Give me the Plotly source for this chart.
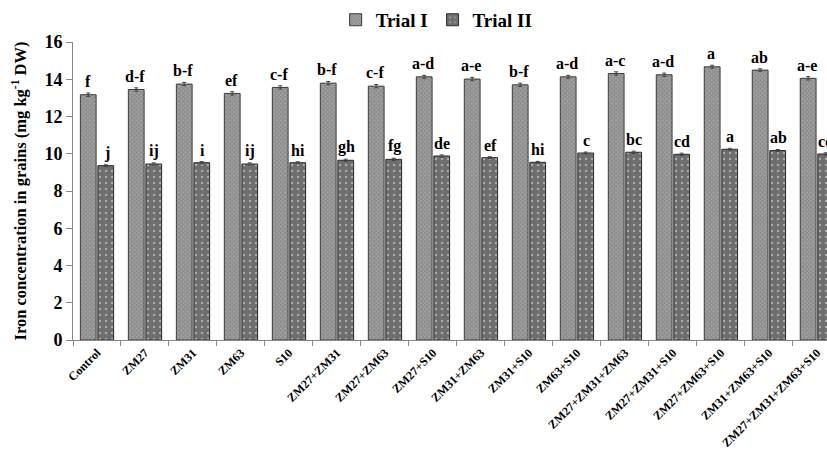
import plotly.graph_objects as go

treatments = ["Control", "ZM27", "ZM31", "ZM63", "S10", "ZM27+ZM31", "ZM27+ZM63",
              "ZM27+S10", "ZM31+ZM63", "ZM31+S10", "ZM63+S10", "ZM27+ZM31+ZM63",
              "ZM27+ZM31+S10", "ZM27+ZM63+S10", "ZM31+ZM63+S10", "ZM27+ZM31+ZM63+S10"]
trial1 = [13.17, 13.45, 13.74, 13.24, 13.56, 13.79, 13.63, 14.13,
          14.01, 13.70, 14.13, 14.31, 14.24, 14.67, 14.49, 14.05]
trial2 = [9.36, 9.45, 9.52, 9.45, 9.52, 9.65, 9.70, 9.88,
          9.79, 9.54, 10.04, 10.08, 9.97, 10.24, 10.17, 9.99]
trial1_err = [0.09, 0.09, 0.09, 0.09, 0.09, 0.09, 0.09, 0.08,
              0.09, 0.09, 0.08, 0.09, 0.09, 0.08, 0.07, 0.09]
trial2_err = [0.05, 0.06, 0.06, 0.06, 0.05, 0.06, 0.06, 0.06,
              0.05, 0.05, 0.05, 0.06, 0.06, 0.05, 0.06, 0.06]
trial1_letters = ["f", "d-f", "b-f", "ef", "c-f", "b-f", "c-f", "a-d",
                  "a-e", "b-f", "a-d", "a-c", "a-d", "a", "ab", "a-e"]
trial2_letters = ["j", "ij", "i", "ij", "hi", "gh", "fg", "de",
                  "ef", "hi", "c", "bc", "cd", "a", "ab", "cd"]

serif = "Liberation Serif, Times New Roman, serif"

fig = go.Figure()
fig.add_trace(go.Bar(
    name="Trial I", x=treatments, y=trial1,
    error_y=dict(type="data", array=trial1_err, color="#444", thickness=1, width=2),
    marker=dict(color="#a4a4a4", line=dict(color="#3a3a3a", width=1),
                pattern=dict(shape="x", size=3, solidity=0.5, fgcolor="#666666")),
))
fig.add_trace(go.Bar(
    name="Trial II", x=treatments, y=trial2,
    error_y=dict(type="data", array=trial2_err, color="#444", thickness=1, width=2),
    marker=dict(color="#6e6e6e", line=dict(color="#2a2a2a", width=1),
                pattern=dict(shape=".", size=6, solidity=0.12, fgcolor="#e8e8e8")),
))

letter_font = dict(family=serif, size=16, color="black", weight="bold")
annotations = []
for cat, v, e, t in zip(treatments, trial1, trial1_err, trial1_letters):
    annotations.append(dict(x=cat, y=v + e, text=t, xshift=-9.5, yshift=1,
                            yanchor="bottom", showarrow=False, font=letter_font))
for cat, v, e, t in zip(treatments, trial2, trial2_err, trial2_letters):
    annotations.append(dict(x=cat, y=v + e, text=t, xshift=9.5, yshift=1,
                            yanchor="bottom", showarrow=False, font=letter_font))

fig.update_layout(
    width=827, height=452,
    margin=dict(l=73, r=0, t=42, b=112),
    paper_bgcolor="white", plot_bgcolor="white",
    barmode="group", bargap=0.27, bargroupgap=0.1,
    font=dict(family=serif, color="black"),
    legend=dict(orientation="h", xref="container", yref="container",
                x=0.528, xanchor="center", y=0.956, yanchor="middle",
                font=dict(family=serif, size=19, weight="bold"),
                itemwidth=30, tracegroupgap=0),
    annotations=annotations,
    xaxis=dict(range=[-0.5, 15.21], tickangle=-45, showline=True, linecolor="#888",
               ticks="outside", tickson="boundaries", ticklen=5, tickcolor="#888",
               automargin=False,
               tickfont=dict(family=serif, size=12, weight="bold")),
    yaxis=dict(range=[0, 16], dtick=2, showgrid=False, zeroline=False, automargin=False,
               showline=True, linecolor="#888", ticks="outside", ticklen=6, tickcolor="#888",
               tickfont=dict(family=serif, size=18, weight="bold"),
               title=dict(text="Iron concentration in grains (mg kg<sup>-1</sup> DW)",
                          font=dict(family=serif, size=16.5, weight="bold"), standoff=13)),
)

fig.write_html("out.html")
